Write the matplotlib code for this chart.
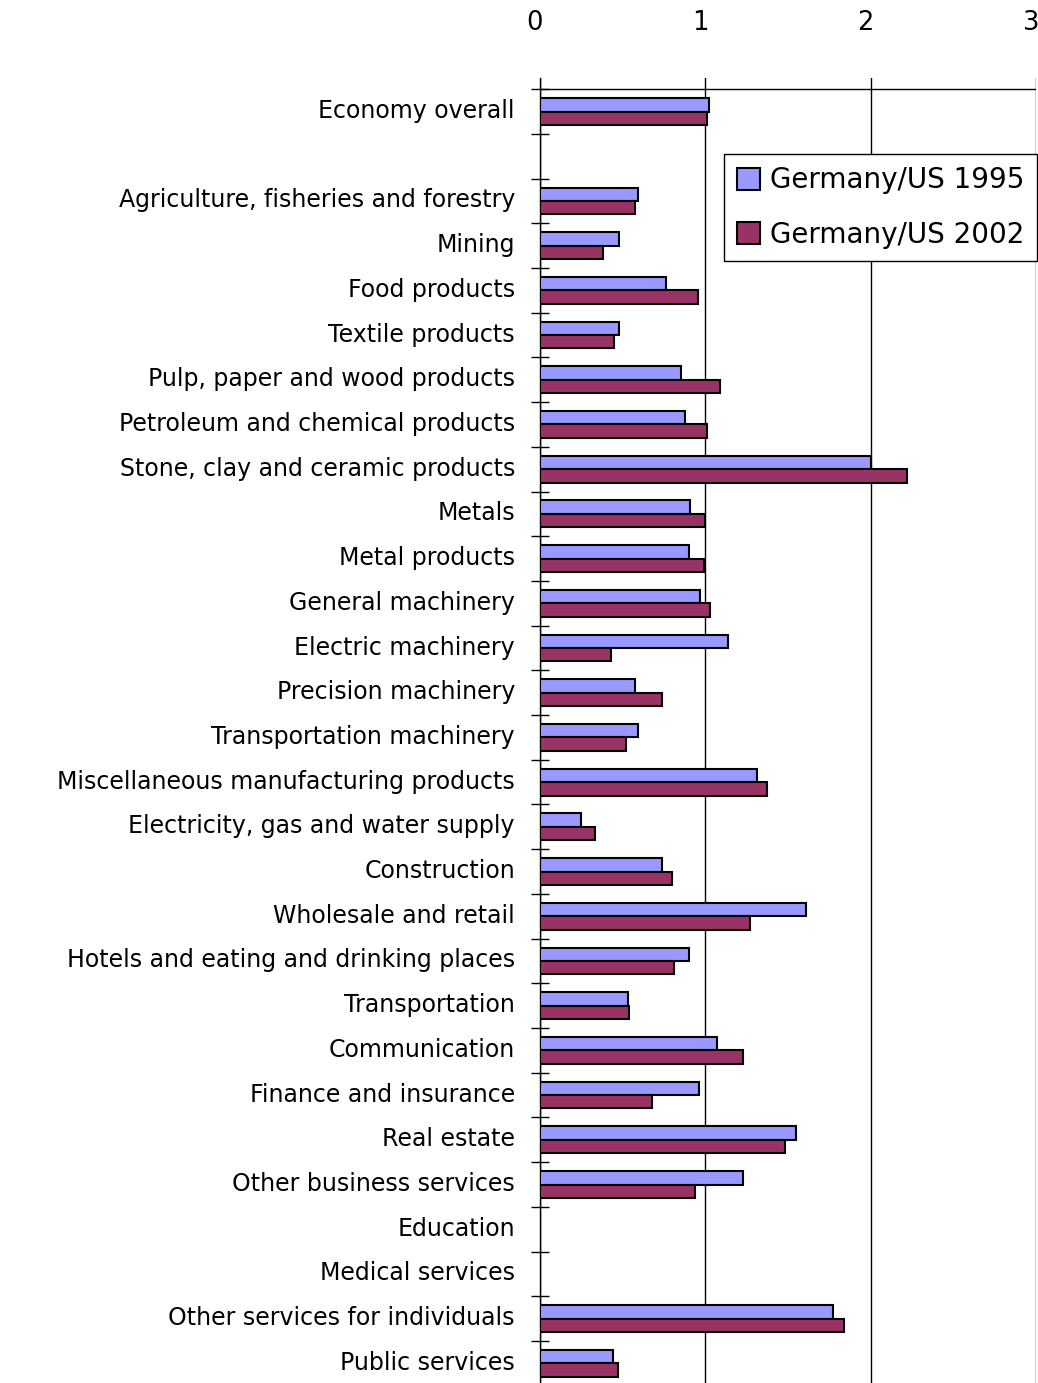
import numpy as np
import matplotlib
matplotlib.use("Agg")
import matplotlib.pyplot as plt
from matplotlib.transforms import ScaledTranslation

categories = [
    "Economy overall",
    "",
    "Agriculture, fisheries and forestry",
    "Mining",
    "Food products",
    "Textile products",
    "Pulp, paper and wood products",
    "Petroleum and chemical products",
    "Stone, clay and ceramic products",
    "Metals",
    "Metal products",
    "General machinery",
    "Electric machinery",
    "Precision machinery",
    "Transportation machinery",
    "Miscellaneous manufacturing products",
    "Electricity, gas and water supply",
    "Construction",
    "Wholesale and retail",
    "Hotels and eating and drinking places",
    "Transportation",
    "Communication",
    "Finance and insurance",
    "Real estate",
    "Other business services",
    "Education",
    "Medical services",
    "Other services for individuals",
    "Public services",
]

germany_us_1995 = [1.02, None, 0.59, 0.48, 0.76, 0.48, 0.85, 0.88, 2.00, 0.91,
                   0.90, 0.97, 1.14, 0.575, 0.59, 1.31, 0.25, 0.74, 1.61, 0.90,
                   0.53, 1.07, 0.96, 1.55, 1.23, None, None, 1.77, 0.44]
germany_us_2002 = [1.01, None, 0.575, 0.38, 0.955, 0.45, 1.09, 1.01, 2.22, 1.00,
                   0.99, 1.03, 0.43, 0.74, 0.52, 1.37, 0.33, 0.80, 1.27, 0.81,
                   0.54, 1.23, 0.68, 1.48, 0.94, None, None, 1.84, 0.47]

series_labels = ["Germany/US 1995", "Germany/US 2002"]
colors = ["#9999FF", "#993366"]

v95 = np.array([np.nan if v is None else v for v in germany_us_1995])
v02 = np.array([np.nan if v is None else v for v in germany_us_2002])
y = np.arange(len(categories))
h = 0.30

fig = plt.figure(figsize=(10.38, 13.83), dpi=100)
ax = fig.add_axes([540 / 1038, 0.0, (1036 - 540) / 1038, 1 - 78 / 1383])

ax.barh(y - h / 2, v95, height=h, color=colors[0], edgecolor="black",
        linewidth=1.5, label=series_labels[0], zorder=3)
ax.barh(y + h / 2, v02, height=h, color=colors[1], edgecolor="black",
        linewidth=1.5, label=series_labels[1], zorder=3)

ax.set_xlim(0, 3)
ax.set_ylim(28.44, -0.75)

# value axis on top
ax.xaxis.tick_top()
ax.set_xticks([0, 1, 2, 3])
ax.tick_params(axis="x", length=0, pad=30, labelsize=18.5)
for lbl in ax.get_xticklabels():
    lbl.set_transform(lbl.get_transform() + ScaledTranslation(-5 / 100, 0, fig.dpi_scale_trans))
ax.grid(axis="x", color="black", linewidth=1.0, zorder=1)

# category axis
ax.set_yticks(y)
ax.set_yticklabels(categories)
ax.tick_params(axis="y", which="major", length=0, pad=18, labelsize=17)
for lbl in ax.get_yticklabels():
    lbl.set_transform(lbl.get_transform() + ScaledTranslation(0, 3 / 100, fig.dpi_scale_trans))
ax.set_yticks(np.arange(-0.5, len(categories) - 1, 1.0), minor=True)
ax.tick_params(axis="y", which="minor", direction="inout", length=13, width=1.0)

for s in ["top", "right", "bottom"]:
    ax.spines[s].set_visible(False)
ax.spines["left"].set_linewidth(1.0)
ax.axhline(-0.5, color="black", linewidth=1.0, zorder=2)

leg = ax.legend(loc="upper right", bbox_to_anchor=(1037 / 1038, 1 - 154 / 1383),
                bbox_transform=fig.transFigure, borderaxespad=0, fontsize=20,
                frameon=True, fancybox=False, edgecolor="black", framealpha=1,
                handlelength=0.85, handleheight=0.85, handletextpad=0.35,
                labelspacing=0.95, borderpad=0.45)
leg.get_frame().set_linewidth(1.0)

fig.savefig("out.png", dpi=100)
